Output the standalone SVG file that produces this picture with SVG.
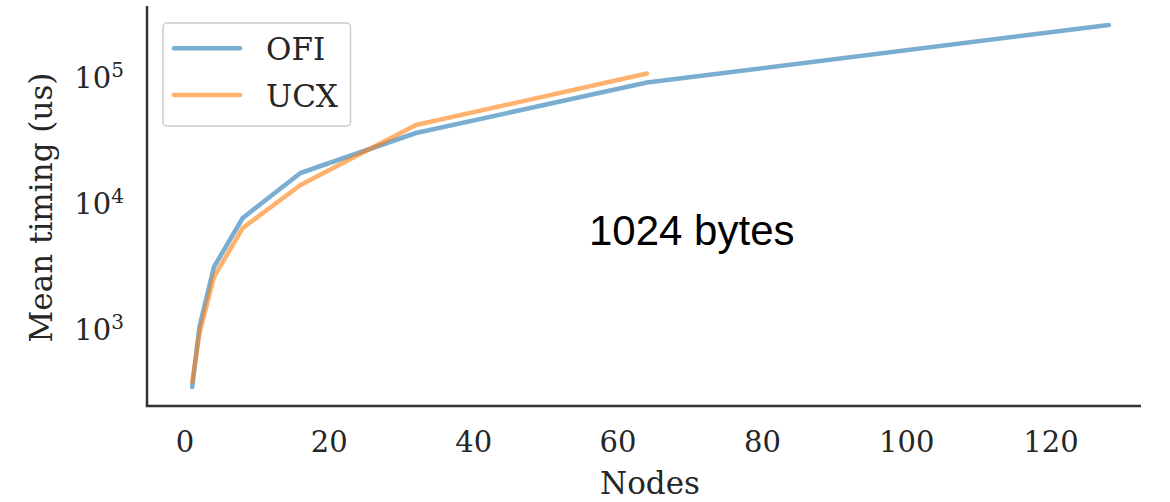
<svg xmlns="http://www.w3.org/2000/svg" width="1170" height="502" viewBox="0 0 1170 502">
<style>
.tick{font-family:"DejaVu Serif",serif;font-size:29px;fill:#262626}
.lab{font-family:"DejaVu Serif",serif;font-size:31px;fill:#262626}
.leg{font-family:"DejaVu Serif",serif;font-size:31px;fill:#262626}
.spine{stroke:#333;stroke-width:2.5;fill:none}
.ofi{stroke:#1f77b4;stroke-opacity:0.6;stroke-width:4.5;fill:none;stroke-linejoin:round;stroke-linecap:round}
.ucx{stroke:#ff7f0e;stroke-opacity:0.6;stroke-width:4.5;fill:none;stroke-linejoin:round;stroke-linecap:round}
</style>
<rect width="1170" height="502" fill="#fff"/>
<g id="axes">
<path class="spine" d="M147,6 V406 H1141"/>
</g>
<g id="xticks" text-anchor="middle">
<text class="tick" x="185" y="452">0</text>
<text class="tick" x="329.3" y="452">20</text>
<text class="tick" x="473.7" y="452">40</text>
<text class="tick" x="618" y="452">60</text>
<text class="tick" x="762.4" y="452">80</text>
<text class="tick" x="906.7" y="452">100</text>
<text class="tick" x="1051" y="452">120</text>
</g>
<g id="yticks">
<text class="tick" x="124" y="88" text-anchor="end">10<tspan dy="-11" font-size="20">5</tspan></text>
<text class="tick" x="124" y="214" text-anchor="end">10<tspan dy="-11" font-size="20">4</tspan></text>
<text class="tick" x="124" y="340" text-anchor="end">10<tspan dy="-11" font-size="20">3</tspan></text>
</g>
<g id="labels">
<text class="lab" x="650" y="494" text-anchor="middle">Nodes</text>
<text class="lab" transform="translate(52,207.5) rotate(-90)" text-anchor="middle">Mean timing (us)</text>
</g>
<g id="series">
<polyline id="ofi" class="ofi" points="192.2,387 199.4,327 213.9,267 242.7,218 300.5,173 415.9,133 646.9,82.5 1108.8,25"/>
<polyline id="ucx" class="ucx" points="192.2,382 199.4,334 213.9,277 242.7,228 300.5,185 415.9,125 646.9,73.5"/>
</g>
<g id="legend">
<rect x="163" y="23" width="187.5" height="103" rx="4" fill="#fff" fill-opacity="0.8" stroke="#ccc" stroke-width="1.5"/>
<line class="ofi" x1="174" y1="48.3" x2="240" y2="48.3"/>
<line class="ucx" x1="174" y1="95" x2="240" y2="95"/>
<text class="leg" x="266" y="60">OFI</text>
<text class="leg" x="266" y="107">UCX</text>
</g>
<g id="annotation">
<text x="589" y="245" font-family="Liberation Sans, Arial, sans-serif" font-size="42" fill="#000">1024 bytes</text>
</g>
</svg>
